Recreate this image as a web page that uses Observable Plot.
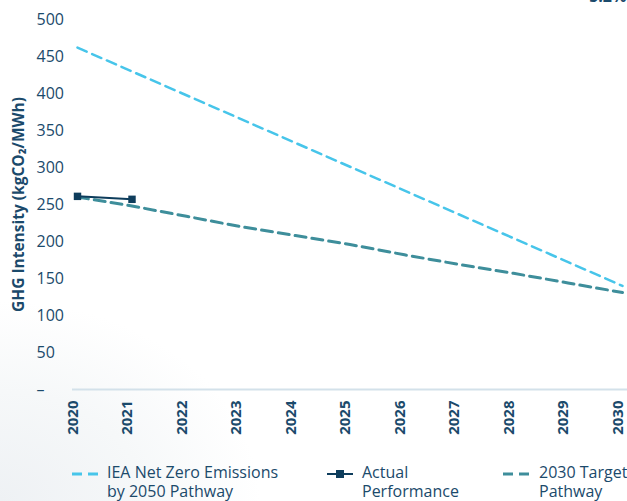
<!DOCTYPE html>
<html>
<head>
<meta charset="utf-8">
<script src="https://cdn.jsdelivr.net/npm/d3@7"></script>
<script src="https://cdn.jsdelivr.net/npm/@observablehq/plot@0.6"></script>
<style>
  html, body { margin: 0; padding: 0; background: #fff; }
  #wrap { position: relative; width: 627px; height: 501px; overflow: hidden; font-family: "Open Sans", sans-serif; color: #1b4a6b; }
  #bg { position: absolute; left: 0; top: 0; width: 627px; height: 501px; background: radial-gradient(ellipse 260px 200px at 0px 501px, #eef1f4 0%, #f6f8f9 55%, rgba(255,255,255,0) 100%); }
  #chart { position: absolute; left: 0; top: 0; }
  .ann { position: absolute; left: 580px; top: -15px; font-size: 16px; font-weight: 700; color: #1b4a6b; white-space: nowrap; }
  .leg { position: absolute; top: 463px; font-size: 16px; line-height: 19px; color: #1b4a6b; white-space: nowrap; }
  .sw { position: absolute; top: 471px; }
</style>
</head>
<body>
<div id="wrap">
  <div id="bg"></div>
  <div id="chart"></div>
</div>
<script>
const years = [2020, 2021, 2022, 2023, 2024, 2025, 2026, 2027, 2028, 2029, 2030];
const ieaYears = [2020, 2030];
const ieaValues = [462, 140];
const targetValues = [260, 248, 234, 220, 208, 196, 182, 169, 157, 144, 131];
const actualYears = [2020, 2021];
const actualValues = [261, 257];
const yTicks = [0, 50, 100, 150, 200, 250, 300, 350, 400, 450, 500];
const yTickLabels = ["–", "50", "100", "150", "200", "250", "300", "350", "400", "450", "500"];
const yLabel = "GHG Intensity (kgCO₂/MWh)";
const annotation = "+5.2%";
const legendItems = ["IEA Net Zero Emissions|by 2050 Pathway", "Actual|Performance", "2030 Target|Pathway"];

const navy = "#1b4a6b";
const iea = ieaYears.map((y, i) => ({year: y, value: ieaValues[i]}));
const target = years.map((y, i) => ({year: y, value: targetValues[i]}));
const actual = actualYears.map((y, i) => ({year: y, value: actualValues[i]}));
const yt = yTicks.map((v, i) => ({v, label: yTickLabels[i]}));

const plot = Plot.plot({
  width: 627,
  height: 501,
  marginLeft: 72,
  marginRight: 0,
  marginTop: 19,
  marginBottom: 112,
  style: {background: "transparent", fontFamily: "'Open Sans', sans-serif", overflow: "visible"},
  x: {domain: [2020, 2030], range: [77, 622], axis: null},
  y: {domain: [0, 500], axis: null},
  marks: [
    Plot.ruleY([0], {stroke: "#d3e1ea", strokeWidth: 2}),
    Plot.text(yt, {y: "v", text: "label", frameAnchor: "left", dx: -36, textAnchor: "start", fontSize: 16, fill: navy}),
    Plot.text([yLabel], {text: d => d, frameAnchor: "left", dx: -53, rotate: -90, textAnchor: "middle", fontSize: 15.5, fontWeight: 700, fill: navy}),
    Plot.text(years, {x: d => d, text: d => String(d), frameAnchor: "bottom", dy: 11, rotate: -90, textAnchor: "end", fontSize: 15, fontWeight: 700, fill: navy}),
    Plot.line(iea, {x: "year", y: "value", stroke: "#47c5ea", strokeWidth: 2.5, strokeDasharray: "10,6"}),
    Plot.line(target, {x: "year", y: "value", stroke: "#3e8e9b", strokeWidth: 3, strokeDasharray: "11,6"}),
    Plot.line(actual, {x: "year", y: "value", stroke: "#0e3d5c", strokeWidth: 2}),
    Plot.dot(actual, {x: "year", y: "value", symbol: "square", r: 4.2, fill: "#0e3d5c", stroke: "none"})
  ]
});
document.getElementById("chart").appendChild(plot);

const wrap = document.getElementById("wrap");
const ann = document.createElement("div");
ann.className = "ann";
ann.textContent = annotation;
wrap.appendChild(ann);

const legX = [107, 362, 539];
const swX = [72, 327, 503];
legendItems.forEach((item, i) => {
  const d = document.createElement("div");
  d.className = "leg";
  d.style.left = legX[i] + "px";
  d.innerHTML = item.split("|").join("<br>");
  wrap.appendChild(d);
  const s = document.createElementNS("http://www.w3.org/2000/svg", "svg");
  s.setAttribute("width", 28); s.setAttribute("height", 10);
  s.setAttribute("class", "sw");
  s.style.left = swX[i] + "px";
  s.style.top = "469px";
  let inner = "";
  if (i === 0) inner = `<line x1="0" y1="5" x2="26" y2="5" stroke="#47c5ea" stroke-width="3" stroke-dasharray="10,6"/>`;
  if (i === 1) inner = `<line x1="0" y1="5" x2="26" y2="5" stroke="#0e3d5c" stroke-width="2"/><rect x="9" y="1" width="8" height="8" fill="#0e3d5c"/>`;
  if (i === 2) inner = `<line x1="0" y1="5" x2="27" y2="5" stroke="#3e8e9b" stroke-width="3" stroke-dasharray="10,6"/>`;
  s.innerHTML = inner;
  wrap.appendChild(s);
});
</script>
</body>
</html>
